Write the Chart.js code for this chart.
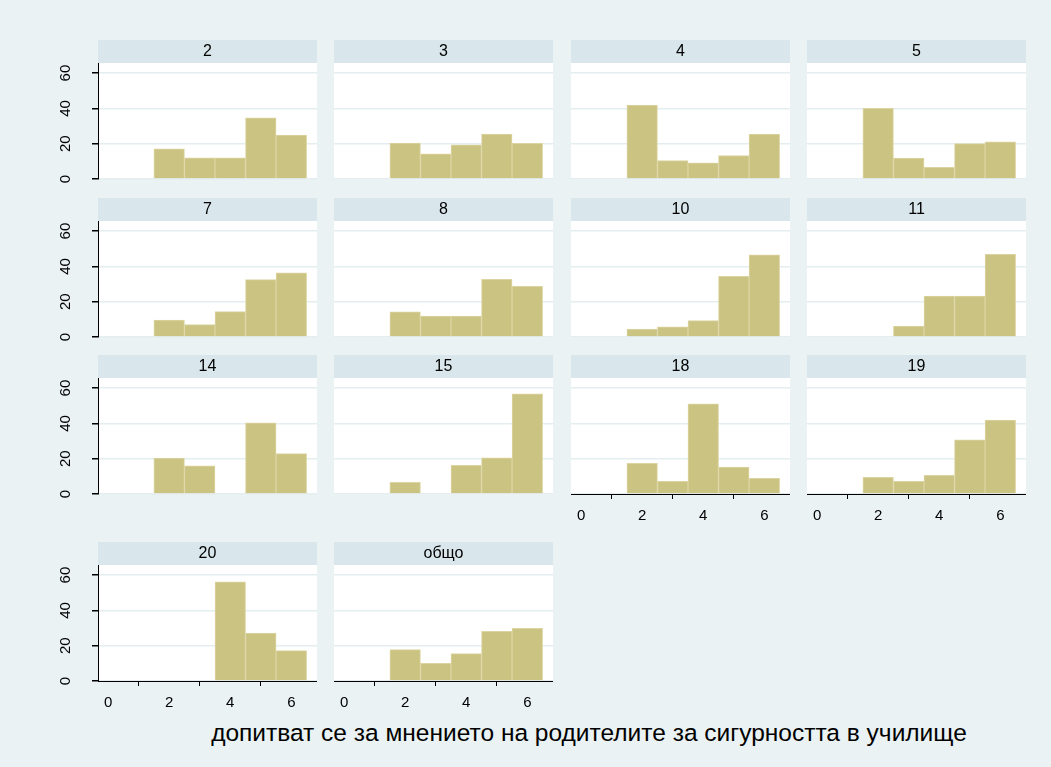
<!DOCTYPE html>
<html><head><meta charset="utf-8">
<script src="https://cdn.jsdelivr.net/npm/chart.js@4.4.0/dist/chart.umd.min.js"></script>
<style>
html,body{margin:0;padding:0;background:#EAF2F3;}
body{width:1051px;height:767px;position:relative;overflow:hidden;font-family:"Liberation Sans",Arial,sans-serif;}
canvas{position:absolute;}
#xtitle{position:absolute;left:0;width:1178px;top:719px;text-align:center;font-size:24.5px;line-height:28px;color:#000;}
</style></head><body>
<div id="xtitle"></div>
<script>
// ---- data ----
const panelLabels = ['2','3','4','5','7','8','10','11','14','15','18','19','20','общо'];
const bins = [2,3,4,5,6];
const p2  = [17.1, 12.0, 12.0, 34.7, 24.9];
const p3  = [20.4, 14.3, 19.4, 25.5, 20.2];
const p4  = [41.9, 10.4,  9.2, 13.2, 25.5];
const p5  = [40.0, 11.9,  6.6, 20.0, 21.1];
const p7  = [ 9.6,  7.0, 14.4, 32.5, 36.4];
const p8  = [14.2, 11.9, 11.9, 32.7, 28.7];
const p10 = [ 4.5,  5.7,  9.3, 34.4, 46.6];
const p11 = [null,  6.2, 23.2, 23.2, 46.8];
const p14 = [20.3, 15.9, null, 40.3, 22.9];
const p15 = [ 6.6, null, 16.3, 20.5, 56.8];
const p18 = [17.4,  7.2, 51.1, 15.2,  8.9];
const p19 = [ 9.5,  7.2, 10.6, 30.7, 41.9];
const p20 = [null, null, 56.1, 27.1, 17.2];
const pAll = [17.8, 10.0, 15.5, 28.2, 29.9];
const panelValues = [p2,p3,p4,p5,p7,p8,p10,p11,p14,p15,p18,p19,p20,pAll];
const xTicks = [0,2,4,6];
const yTicks = [0,20,40,60];
const xTitle = 'допитват се за мнението на родителите за сигурността в училище';

// ---- layout ----
const colLeft = [98, 334, 571, 807];
const plotTop = [63, 221, 378, 565];
const plotW = 219, plotH = 116, stripH = 23, yAxisW = 60, xAxisH = 40, labelRoom = 12;
const xMin = -0.33, xMax = 6.84, yMax = 65.7;
const FONT = '"Liberation Sans", Arial, sans-serif';

document.getElementById('xtitle').textContent = xTitle;

const stripPlugin = {
  id: 'strip',
  beforeDraw(chart, args, opts) {
    const {ctx, chartArea: a} = chart;
    ctx.save();
    ctx.fillStyle = '#ffffff';
    ctx.fillRect(a.left, a.top, a.right - a.left, a.bottom - a.top);
    ctx.fillStyle = '#D9E6EB';
    ctx.fillRect(a.left, a.top - stripH, a.right - a.left, stripH);
    ctx.fillStyle = '#000';
    ctx.font = '16px ' + FONT;
    ctx.textAlign = 'center';
    ctx.textBaseline = 'middle';
    ctx.fillText(opts.text, (a.left + a.right) / 2, a.top - stripH / 2 + 0.5);
    ctx.restore();
  }
};

panelValues.forEach((vals, i) => {
  const col = i % 4, row = Math.floor(i / 4);
  const hasX = i >= 10;
  const hasY = col === 0;
  const extraBottom = (hasY && !hasX) ? labelRoom : 0;
  const cv = document.createElement('canvas');
  const w = plotW + (hasY ? yAxisW : 0);
  const h = stripH + plotH + (hasX ? xAxisH : 0) + extraBottom;
  cv.width = w; cv.height = h;
  cv.style.left = (colLeft[col] - (hasY ? yAxisW : 0)) + 'px';
  cv.style.top = (plotTop[row] - stripH) + 'px';
  cv.style.width = w + 'px'; cv.style.height = h + 'px';
  document.body.appendChild(cv);
  new Chart(cv, {
    type: 'bar',
    data: {
      datasets: [{
        data: bins.map((b, k) => ({x: b, y: vals[k]})),
        backgroundColor: '#CBC382',
        borderColor: '#DCD5A2',
        borderWidth: 1,
        borderSkipped: 'bottom',
        categoryPercentage: 1,
        barPercentage: 1
      }]
    },
    options: {
      responsive: false, animation: false, devicePixelRatio: 1,
      layout: {padding: {top: stripH, left: 0, right: 0, bottom: extraBottom}},
      plugins: {legend: {display: false}, tooltip: {enabled: false}, strip: {text: panelLabels[i]}},
      scales: {
        x: {
          type: 'linear', min: xMin, max: xMax, offset: false, display: hasX,
          grid: {display: true, drawOnChartArea: false, drawTicks: true, tickLength: 5, tickColor: '#000'},
          border: {display: true, color: '#000', width: 1},
          ticks: {font: {size: 15, family: FONT}, color: '#000', padding: 8, maxRotation: 0},
          afterBuildTicks: s => { s.ticks = xTicks.map(v => ({value: v})); },
          afterFit: s => { s.height = hasX ? xAxisH : 0; s.paddingLeft = 0; s.paddingRight = 0; }
        },
        y: {
          min: 0, max: yMax, display: true,
          grid: {color: '#E4EDF0', lineWidth: 1.5, drawTicks: hasY, tickLength: 6, tickColor: '#000'},
          border: {display: hasY, color: '#000', width: 1},
          ticks: {display: hasY, minRotation: 90, maxRotation: 90, crossAlign: 'center', padding: 18,
                  font: {size: 15, family: FONT}, color: '#000'},
          afterBuildTicks: s => { s.ticks = yTicks.map(v => ({value: v})); },
          afterFit: s => { s.width = hasY ? yAxisW : 0; s.paddingTop = 0; s.paddingBottom = 0; }
        }
      }
    },
    plugins: [stripPlugin]
  });
});
</script>
</body></html>
